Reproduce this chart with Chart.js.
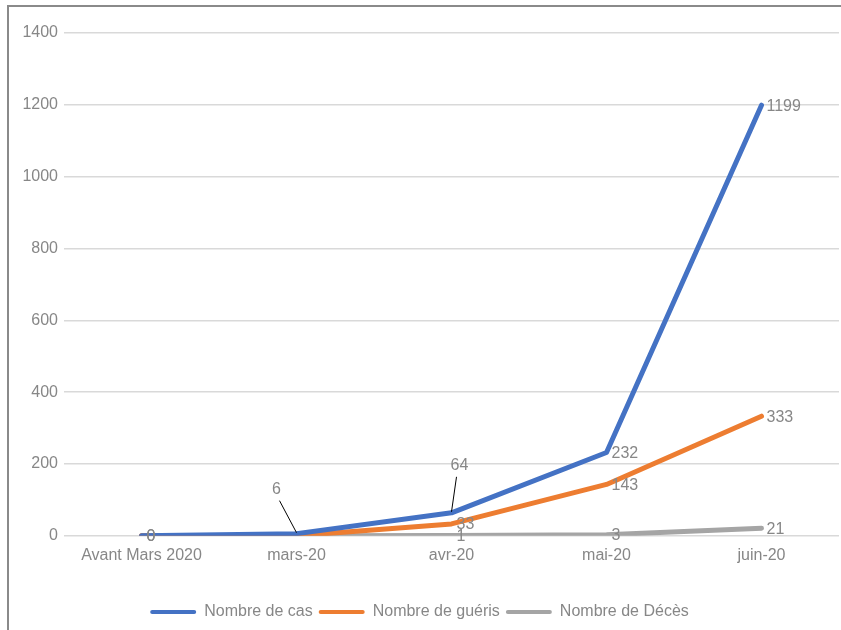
<!DOCTYPE html>
<html>
<head>
<meta charset="utf-8">
<script src="https://cdn.jsdelivr.net/npm/chart.js@4.4.1/dist/chart.umd.min.js"></script>
<style>
  html, body { margin: 0; padding: 0; background: #fff; }
  #wrap { position: relative; width: 841px; height: 630px; }
  #frame { position: absolute; left: 7px; top: 5px; right: -5px; bottom: -5px;
           border-left: 2px solid #8a8a8a; border-top: 2px solid #8a8a8a; pointer-events: none; }
</style>
</head>
<body>
<div id="wrap">
  <canvas id="lineChart" width="841" height="630"></canvas>
  <div id="frame"></div>
</div>
<script>
// categories + series
const categories = ['Avant Mars 2020', 'mars-20', 'avr-20', 'mai-20', 'juin-20'];
const casValues = [0, 6, 64, 232, 1199];
const guerisValues = [0, 0, 33, 143, 333];
const decesValues = [0, 0, 1, 3, 21];
const yTicks = [0, 200, 400, 600, 800, 1000, 1200, 1400];

// which labels are shown and how ('r' = right of point, 'lead' = with leader line)
const labelMode = {
  cas: ['r', 'lead', 'lead', 'r', 'r'],
  gueris: [null, null, 'r', 'r', 'r'],
  deces: ['r', null, 'r', 'r', 'r']
};
const leaderOffsets = { 1: [-20, -44], 2: [8, -47] };

const FONT = "'Liberation Sans', Arial, sans-serif";
const GREY_TXT = '#878787';

// petit plugin maison pour les étiquettes
const valueLabels = {
  id: 'valueLabels',
  afterDatasetsDraw(chart) {
    const ctx = chart.ctx;
    const keys = ['cas', 'gueris', 'deces'];
    ctx.save();
    ctx.font = '16px ' + FONT;
    ctx.fillStyle = GREY_TXT;
    // décès d'abord pour que le 0 de cas passe dessus
    [2, 1, 0].forEach(di => {
      const meta = chart.getDatasetMeta(di);
      const data = chart.data.datasets[di].data;
      meta.data.forEach((pt, i) => {
        const mode = labelMode[keys[di]][i];
        if (!mode) return;
        const txt = String(data[i]);
        if (mode === 'r') {
          ctx.textAlign = 'left';
          ctx.textBaseline = 'middle';
          ctx.fillText(txt, pt.x + 5, pt.y + 1);
        } else {
          const off = leaderOffsets[i];
          const tx = pt.x + off[0], ty = pt.y + off[1];
          ctx.textAlign = 'center';
          ctx.textBaseline = 'middle';
          ctx.fillText(txt, tx, ty);
          ctx.strokeStyle = '#000';
          ctx.lineWidth = 1;
          ctx.beginPath();
          ctx.moveTo(tx + (off[0] < 0 ? 3 : -3), ty + 11);
          ctx.lineTo(pt.x, pt.y - 1);
          ctx.stroke();
        }
      });
    });
    ctx.restore();
  }
};

const mkSet = (label, values, color) => ({
  label: label,
  data: values,
  borderColor: color,
  backgroundColor: color,
  borderWidth: 5,
  borderCapStyle: 'round',
  borderJoinStyle: 'round',
  pointRadius: 0,
  pointHoverRadius: 0,
  tension: 0
});

new Chart(document.getElementById('lineChart'), {
  type: 'line',
  data: {
    labels: categories,
    datasets: [
      mkSet('Nombre de cas', casValues, '#4472C4'),
      mkSet('Nombre de guéris', guerisValues, '#ED7D31'),
      mkSet('Nombre de Décès', decesValues, '#A5A5A5')
    ]
  },
  options: {
    responsive: false,
    animation: false,
    layout: { padding: { top: 33, right: 2, left: 0, bottom: 0 } },
    scales: {
      x: {
        offset: true,
        grid: { display: false, drawTicks: false },
        border: { display: false },
        ticks: { color: GREY_TXT, font: { family: FONT, size: 16 }, padding: 10, maxRotation: 0 },
        afterFit: s => { s.height += 23; }
      },
      y: {
        min: 0,
        max: 1400,
        afterBuildTicks: s => { s.ticks = yTicks.map(v => ({ value: v })); },
        afterFit: s => { s.width = 64; },
        grid: { color: '#d9d9d9', lineWidth: 1.5, drawTicks: false },
        border: { display: false },
        ticks: { color: GREY_TXT, font: { family: FONT, size: 16 }, padding: 6, callback: v => String(v) }
      }
    },
    plugins: {
      legend: {
        position: 'bottom',
        labels: {
          color: GREY_TXT,
          font: { family: FONT, size: 16 },
          boxWidth: 46,
          boxHeight: 4,
          padding: 6,
          generateLabels: chart => chart.data.datasets.map((d, i) => ({
            text: d.label,
            fillStyle: d.borderColor,
            strokeStyle: d.borderColor,
            lineWidth: 0,
            borderRadius: 2,
            fontColor: GREY_TXT,
            datasetIndex: i
          }))
        }
      },
      tooltip: { enabled: false }
    }
  },
  plugins: [valueLabels]
});
</script>
</body>
</html>
